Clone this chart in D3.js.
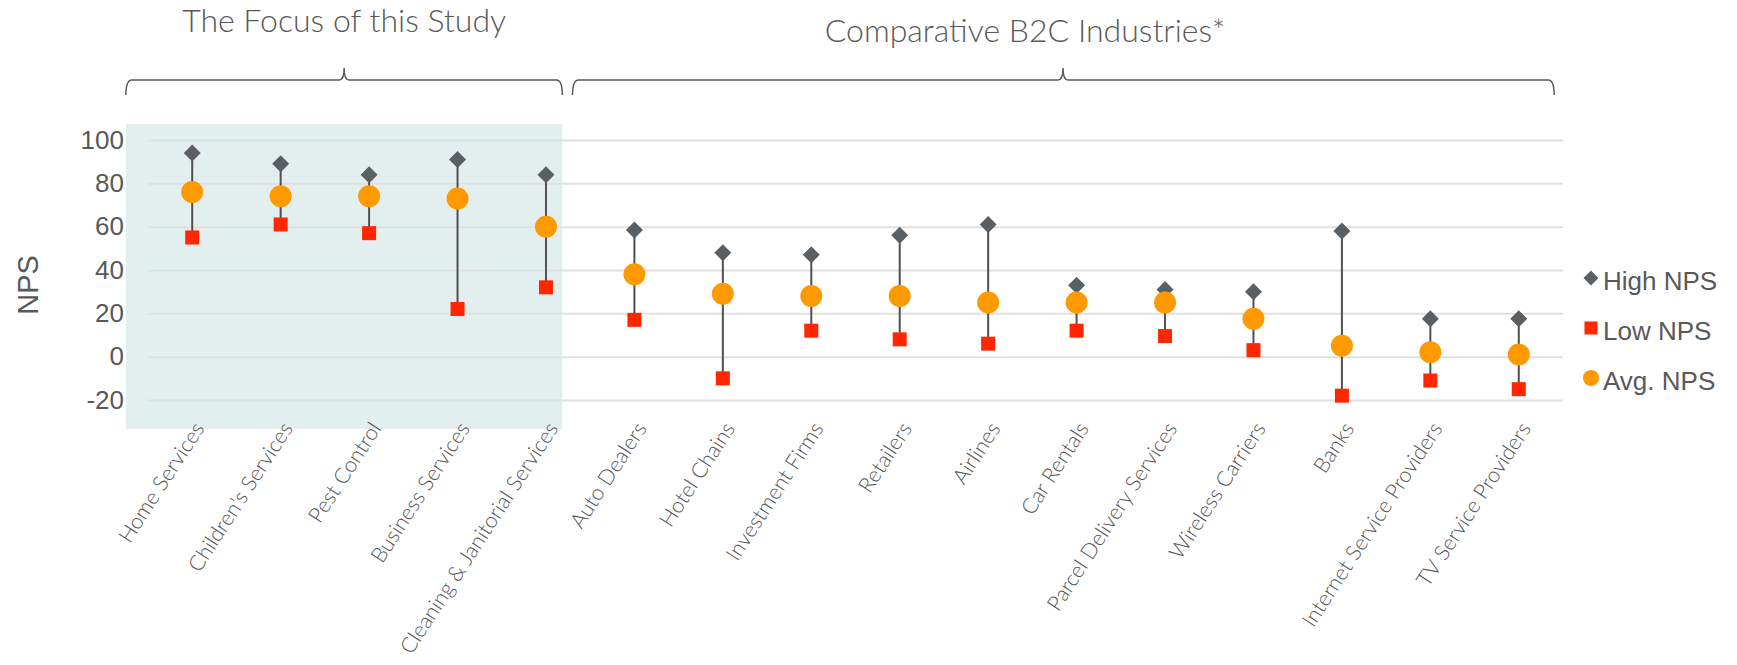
<!DOCTYPE html>
<html>
<head>
<meta charset="utf-8">
<script src="https://cdn.jsdelivr.net/npm/d3@7"></script>
<style>
  html, body { margin: 0; padding: 0; background: #ffffff; }
  svg { display: block; }
</style>
</head>
<body>
<svg id="chart" width="1737" height="665"></svg>
<script>
const categories = [
  "Home Services", "Children's Services", "Pest Control", "Business Services",
  "Cleaning & Janitorial Services", "Auto Dealers", "Hotel Chains", "Investment Firms",
  "Retailers", "Airlines", "Car Rentals", "Parcel Delivery Services", "Wireless Carriers",
  "Banks", "Internet Service Providers", "TV Service Providers"
];
const highNPS = [94, 89, 84, 91, 84, 58.5, 48, 47, 56, 61, 33, 31, 30, 58, 17.5, 17.5];
const lowNPS  = [55, 61, 57, 22, 32, 17, -10, 12, 8, 6, 12, 9.5, 3, -18, -11, -15];
const avgNPS  = [76, 74, 74, 73, 60, 38, 29, 28, 28, 25, 25, 25, 17.5, 5, 2, 1];
const yTicks = [-20, 0, 20, 40, 60, 80, 100];
const groupLabels = ["The Focus of this Study", "Comparative B2C Industries*"];
const groupFirst = [0, 5];
const groupLast = [4, 15];
const legendLabels = ["High NPS", "Low NPS", "Avg. NPS"];
const yTitle = "NPS";

const svg = d3.select("#chart");
const textGray = "#595959";
const plotLeft = 148, plotRight = 1563;
const x = d3.scaleBand().domain(categories).range([plotLeft, plotRight]);
const y = d3.scaleLinear().domain([-20, 100]).range([400, 140]);
const cx = i => x(categories[i]) + x.bandwidth() / 2;

// shaded focus region
const step = x.step();
const shadeL = cx(groupFirst[0]) - 0.75 * step;
const shadeR = cx(groupLast[0]) + 0.185 * step;
svg.append("rect")
  .attr("x", shadeL).attr("y", 124)
  .attr("width", shadeR - shadeL).attr("height", 429 - 124)
  .attr("fill", "#e3efee");

// y axis with gridlines
const yAxis = svg.append("g")
  .attr("transform", `translate(${plotLeft},0)`)
  .call(d3.axisLeft(y).tickValues(yTicks).tickFormat(d => String(d))
    .tickSize(-(plotRight - plotLeft)).tickPadding(24));
yAxis.select(".domain").remove();
yAxis.selectAll(".tick line").attr("stroke", "#e0e0e0").attr("stroke-width", 2);
yAxis.selectAll(".tick text")
  .attr("fill", textGray)
  .style("font-family", "'Liberation Sans', Arial, sans-serif")
  .style("font-size", "26px");

// y title
svg.append("text")
  .attr("transform", "translate(38,285) rotate(-90)")
  .attr("text-anchor", "middle")
  .attr("fill", textGray)
  .style("font-family", "'Liberation Sans', Arial, sans-serif")
  .style("font-size", "29px")
  .text(yTitle);

// x axis labels
const xAxis = svg.append("g")
  .attr("transform", "translate(0,412)")
  .call(d3.axisBottom(x).tickSize(0).tickPadding(0));
xAxis.select(".domain").remove();
xAxis.selectAll(".tick text")
  .attr("fill", "#555555")
  .attr("text-anchor", "end")
  .attr("transform", "translate(13,16.5) rotate(-57)")
  .attr("dy", "0")
  .attr("y", 0)
  .style("font-family", "Lato, sans-serif")
  .style("font-weight", 300)
  .style("font-size", "21.5px");

// range lines
const marks = svg.append("g");
marks.selectAll("line.range").data(categories).join("line")
  .attr("class", "range")
  .attr("x1", (d, i) => cx(i)).attr("x2", (d, i) => cx(i))
  .attr("y1", (d, i) => y(highNPS[i])).attr("y2", (d, i) => y(lowNPS[i]))
  .attr("stroke", "#505050").attr("stroke-width", 2);

const diamondColor = "#5a5f63", squareColor = "#ff2600", circleColor = "#ff9900";
const diamondHalf = 8.5, squareSide = 14, circleR = 11;

function diamondPath(px, py, h) {
  return `M${px},${py - h}L${px + h},${py}L${px},${py + h}L${px - h},${py}Z`;
}

marks.selectAll("path.high").data(categories).join("path")
  .attr("class", "high")
  .attr("d", (d, i) => diamondPath(cx(i), y(highNPS[i]), diamondHalf))
  .attr("fill", diamondColor);

marks.selectAll("rect.low").data(categories).join("rect")
  .attr("class", "low")
  .attr("x", (d, i) => cx(i) - squareSide / 2)
  .attr("y", (d, i) => y(lowNPS[i]) - squareSide / 2)
  .attr("width", squareSide).attr("height", squareSide)
  .attr("fill", squareColor);

marks.selectAll("circle.avg").data(categories).join("circle")
  .attr("class", "avg")
  .attr("cx", (d, i) => cx(i))
  .attr("cy", (d, i) => y(avgNPS[i]))
  .attr("r", circleR)
  .attr("fill", circleColor);

// legend
const legend = svg.append("g").attr("transform", "translate(1591,0)");
const legendY = [278, 328, 378];
legend.append("path").attr("d", diamondPath(0, legendY[0], 7.5)).attr("fill", diamondColor);
legend.append("rect").attr("x", -6.5).attr("y", legendY[1] - 6.5).attr("width", 13).attr("height", 13).attr("fill", squareColor);
legend.append("circle").attr("cx", 0).attr("cy", legendY[2]).attr("r", 8).attr("fill", circleColor);
legend.selectAll("text").data(legendLabels).join("text")
  .attr("x", 12).attr("y", (d, i) => legendY[i] + 3)
  .attr("dy", "0.35em")
  .attr("fill", textGray)
  .style("font-family", "'Liberation Sans', Arial, sans-serif")
  .style("font-size", "26px")
  .text(d => d);

// braces and group titles
const braceY = 80, braceDrop = 15, braceTip = 12;
const braceBounds = [
  [shadeL, shadeR],
  [cx(groupFirst[1]) - 0.7 * step, cx(groupLast[1]) + 0.4 * step]
];
const braceCenters = [ (braceBounds[0][0] + braceBounds[0][1]) / 2, 1063 ];
function bracePath(l, r, c) {
  return `M${l},${braceY + braceDrop} Q${l},${braceY} ${l + 6},${braceY}` +
         ` L${c - 5},${braceY} Q${c},${braceY} ${c},${braceY - braceTip}` +
         ` Q${c},${braceY} ${c + 5},${braceY} L${r - 6},${braceY} Q${r},${braceY} ${r},${braceY + braceDrop}`;
}
braceBounds.forEach((b, i) => {
  svg.append("path")
    .attr("d", bracePath(b[0], b[1], braceCenters[i]))
    .attr("fill", "none")
    .attr("stroke", "#595959")
    .attr("stroke-width", 1.5);
});
const titleX = [braceCenters[0], 1025];
const titleY = [32, 42];
groupLabels.forEach((t, i) => {
  svg.append("text")
    .attr("x", titleX[i]).attr("y", titleY[i])
    .attr("text-anchor", "middle")
    .attr("fill", textGray)
    .style("font-family", "Lato, sans-serif")
    .style("font-weight", 300)
    .style("font-size", "32px")
    .text(t);
});
</script>
</body>
</html>
